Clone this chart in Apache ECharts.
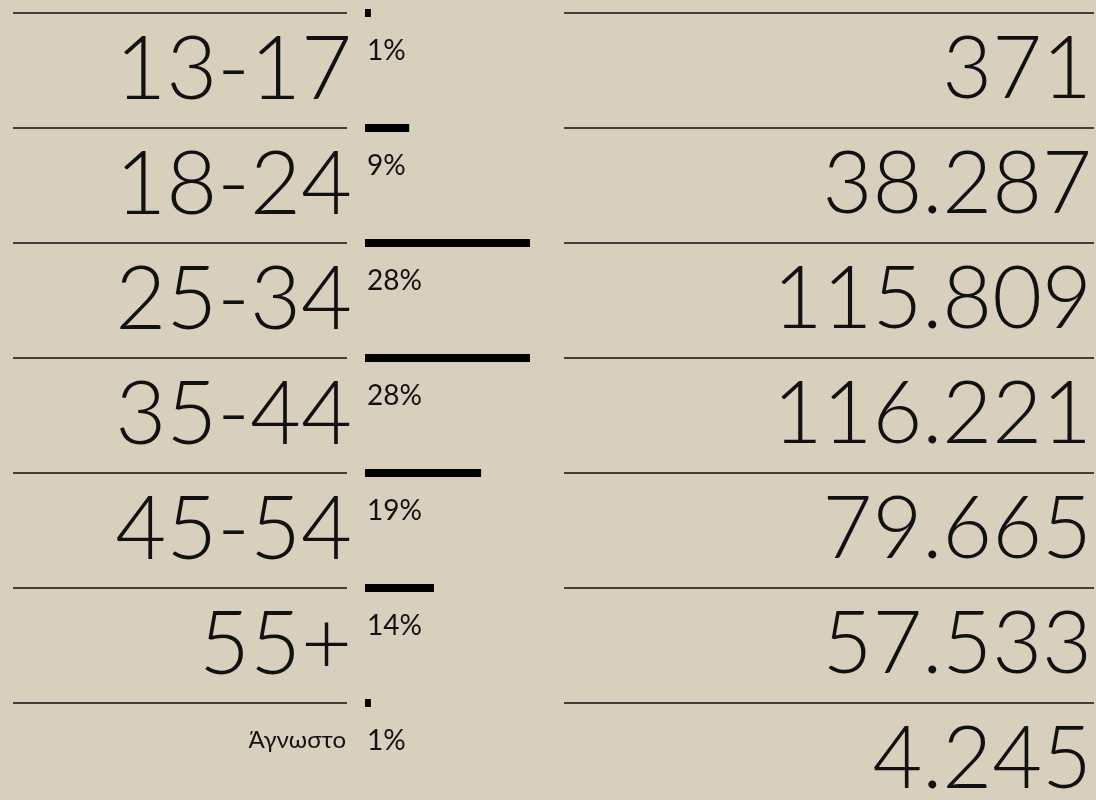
<!DOCTYPE html>
<html><head><meta charset="utf-8">
<script src="https://cdn.jsdelivr.net/npm/echarts@6/dist/echarts.min.js"></script>
<style>html,body{margin:0;padding:0;background:#d8cfbd;overflow:hidden}#c{width:1096px;height:840px}</style>
</head><body><div id="c"></div>
<script>
// ---- data ----
const categories = ['13-17', '18-24', '25-34', '35-44', '45-54', '55+', 'Άγνωστο'];
const percentLabels = ['1%', '9%', '28%', '28%', '19%', '14%', '1%'];
const barValues = [1, 7.5, 28, 28, 19.7, 11.7, 1];
const counts = [371, 38287, 115809, 116221, 79665, 57533, 4245];

// ---- chart ----
const fmt = n => String(n).replace(/\B(?=(\d{3})+(?!\d))/g, '.');
const FONT = 'Lato';
const INK = '#111111';
const ROW_H = 115, TOP = 13, N = categories.length;
const gridH = ROW_H * N;

const chart = echarts.init(document.getElementById('c'), null, {renderer: 'canvas'});
chart.setOption({
  backgroundColor: '#d8cfbd',
  animation: false,
  grid: [
    {left: 13, width: 334, top: TOP, height: gridH, outerBoundsMode: 'none'},
    {left: 365, width: 176.8, top: TOP, height: ROW_H * (N - 1), outerBoundsMode: 'none'},
    {left: 564, width: 530, top: TOP, height: gridH, outerBoundsMode: 'none'}
  ],
  xAxis: [
    {gridIndex: 0, type: 'value', show: false},
    {gridIndex: 1, type: 'value', min: 0, max: 30, show: false},
    {gridIndex: 2, type: 'value', show: false}
  ],
  yAxis: [
    {
      gridIndex: 0, type: 'category', data: categories, inverse: true, position: 'right',
      axisLine: {show: false}, axisTick: {show: false},
      splitLine: {show: true, lineStyle: {color: INK, width: 1.5}},
      axisLabel: {
        inside: true, margin: -5,
        formatter: (v, i) => i === N - 1 ? '{small|' + v + '}' : '{big|' + v + '}',
        rich: {
          big: {fontSize: 88, fontFamily: FONT, fontWeight: 300, color: INK},
          small: {fontSize: 24, fontFamily: FONT, fontWeight: 400, color: INK, padding: [0, 6, 40, 0]}
        }
      }
    },
    {gridIndex: 1, type: 'category', data: categories, inverse: true, boundaryGap: false, show: false},
    {
      gridIndex: 2, type: 'category', data: categories, inverse: true, position: 'right',
      axisLine: {show: false}, axisTick: {show: false},
      splitLine: {show: true, lineStyle: {color: INK, width: 1.5}},
      axisLabel: {
        inside: true, margin: 2,
        formatter: (v, i) => fmt(counts[i]),
        fontSize: 86, fontFamily: FONT, fontWeight: 300, color: INK
      }
    }
  ],
  series: [{
    type: 'bar', xAxisIndex: 1, yAxisIndex: 1,
    data: barValues, barWidth: 8,
    itemStyle: {color: '#000000'},
    label: {
      show: true, position: [2, 28],
      formatter: p => percentLabels[p.dataIndex],
      fontSize: 28, fontFamily: FONT, fontWeight: 400, color: INK
    }
  }]
});
</script>
</body></html>
